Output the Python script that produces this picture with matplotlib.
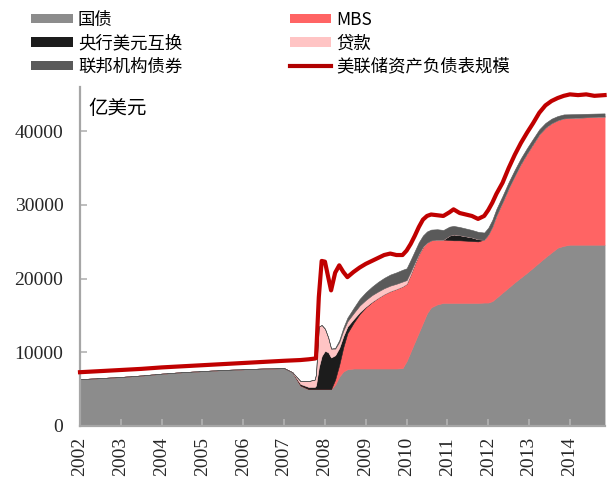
import matplotlib
matplotlib.use("Agg")
import matplotlib.pyplot as plt
from matplotlib.patches import Patch
from matplotlib.lines import Line2D

plt.rcParams["font.family"] = ["Noto Sans CJK SC", "DejaVu Sans"]

# time axis (decimal year, as drawn on the chart)
years = [
    2002.0, 2002.5, 2003.0, 2003.5, 2004.0, 2004.5, 2005.0, 2005.5, 2006.0, 2006.5,
    2007.0, 2007.2, 2007.4, 2007.6, 2007.75, 2007.78, 2007.85, 2007.92, 2008.0, 2008.08,
    2008.15, 2008.25, 2008.35, 2008.45, 2008.55, 2008.7, 2008.85, 2009.0, 2009.15, 2009.3,
    2009.45, 2009.6, 2009.75, 2009.9, 2010.0, 2010.1, 2010.2, 2010.3, 2010.4, 2010.5,
    2010.6, 2010.75, 2010.9, 2011.05, 2011.15, 2011.3, 2011.45, 2011.6, 2011.75, 2011.9,
    2012.0, 2012.1, 2012.2, 2012.35, 2012.5, 2012.65, 2012.8, 2012.95, 2013.1, 2013.25,
    2013.4, 2013.55, 2013.7, 2013.85, 2014.0, 2014.2, 2014.4, 2014.6, 2014.85,
]

# values in 亿美元
treasury = [
    6350, 6500, 6650, 6850, 7100, 7300, 7450, 7600, 7700, 7800,
    7850, 7300, 5500, 5000, 5000, 5000, 5000, 5000, 5000, 5000,
    5000, 5600, 6700, 7400, 7700, 7800, 7800, 7800, 7800, 7800,
    7800, 7800, 7800, 7850, 8800, 10100, 11400, 12700, 14000, 15300,
    16100, 16500, 16700, 16700, 16700, 16700, 16700, 16700, 16700, 16750,
    16750, 16950, 17400, 18100, 18800, 19500, 20150, 20800, 21500, 22200,
    22900, 23550, 24200, 24450, 24600, 24600, 24600, 24600, 24600,
]
mbs = [
    0, 0, 0, 0, 0, 0, 0, 0, 0, 0,
    0, 0, 0, 0, 0, 0, 0, 0, 0, 0,
    0, 700, 1600, 3300, 4900, 6200, 7400, 8300, 9000, 9600,
    10100, 10500, 10800, 11100, 10500, 10500, 10600, 10600, 10300, 9600,
    9100, 8800, 8600, 8550, 8500, 8500, 8450, 8400, 8350, 8550,
    9250, 10150, 11200, 12300, 13500, 14500, 15450, 16200, 16800, 17400,
    17600, 17550, 17300, 17300, 17200, 17250, 17300, 17350, 17400,
]
swaps = [
    0, 0, 0, 0, 0, 0, 0, 0, 0, 0,
    0, 0, 200, 300, 300, 500, 3000, 4500, 5200, 5000,
    4300, 3300, 2300, 1500, 900, 500, 250, 100, 50, 0,
    0, 0, 0, 0, 0, 0, 0, 0, 0, 0,
    0, 0, 0, 600, 800, 700, 600, 500, 300, 0,
    0, 0, 0, 0, 0, 0, 0, 0, 0, 0,
    0, 0, 0, 0, 0, 0, 0, 0, 0,
]
loans = [
    0, 0, 0, 0, 0, 0, 0, 0, 0, 0,
    0, 0, 400, 800, 1000, 1500, 5500, 4200, 3000, 2000,
    1200, 900, 800, 750, 700, 800, 900, 900, 900, 850,
    800, 750, 700, 650, 500, 350, 200, 100, 50, 0,
    0, 0, 0, 0, 0, 0, 0, 0, 0, 0,
    0, 0, 0, 0, 0, 0, 0, 0, 0, 0,
    0, 0, 0, 0, 0, 0, 0, 0, 0,
]
agency = [
    0, 0, 0, 0, 0, 0, 0, 0, 0, 0,
    0, 0, 0, 0, 0, 0, 0, 0, 0, 0,
    0, 100, 250, 400, 500, 700, 900, 1050, 1150, 1300,
    1400, 1500, 1550, 1600, 1600, 1600, 1550, 1550, 1500, 1500,
    1450, 1400, 1300, 1200, 1150, 1100, 1050, 1000, 1000, 950,
    900, 880, 860, 830, 800, 780, 750, 720, 700, 660,
    620, 600, 560, 530, 500, 480, 460, 440, 420,
]
total = [
    7300, 7450, 7600, 7750, 7950, 8100, 8250, 8400, 8550, 8700,
    8850, 8900, 8950, 9050, 9150, 9200, 17500, 22400, 22300, 20200,
    18400, 20800, 21800, 20900, 20200, 20900, 21500, 22000, 22400, 22800,
    23200, 23400, 23200, 23200, 23800, 24700, 25800, 27000, 28000, 28500,
    28700, 28600, 28500, 29000, 29400, 28900, 28700, 28500, 28100, 28500,
    29300, 30300, 31500, 33000, 35000, 36800, 38400, 39800, 41100, 42500,
    43500, 44100, 44500, 44800, 45000, 44900, 45000, 44800, 44900,
]

year_ticks = list(range(2002, 2015))
value_ticks = [0, 10000, 20000, 30000, 40000]

area_labels = ["国债", "MBS", "央行美元互换", "贷款", "联邦机构债券"]
area_colors = ["#8c8c8c", "#ff6464", "#1c1c1c", "#ffc4c4", "#5a5a5a"]
line_label = "美联储资产负债表规模"
line_color = "#c00000"

fig = plt.figure(figsize=(6.15, 4.82), dpi=100)
ax = fig.add_axes([80 / 615, 1 - 426 / 482, 525 / 615, 339 / 482])

ax.stackplot(
    years, treasury, mbs, swaps, loans, agency,
    colors=area_colors, edgecolor="face", linewidth=0.4,
)
ax.plot(years, total, color=line_color, lw=3.0, clip_on=False, zorder=3)

ax.set_xlim(2002, 2014.86)
ax.set_ylim(0, 46000)
ax.set_xticks(year_ticks)
ax.set_xticklabels([str(y) for y in year_ticks], rotation=90)
ax.set_yticks(value_ticks)
ax.set_yticklabels([str(v) for v in value_ticks])

for side in ("top", "right"):
    ax.spines[side].set_visible(False)
for side in ("left", "bottom"):
    ax.spines[side].set_color("#a6a6a6")
    ax.spines[side].set_linewidth(1.6)

ax.tick_params(axis="both", direction="in", length=5, width=1.2,
               color="#b3b3b3", labelsize=14, labelcolor="#262626")
ax.tick_params(axis="y", pad=12)
ax.tick_params(axis="x", pad=8)
for lab in ax.get_xticklabels() + ax.get_yticklabels():
    lab.set_fontfamily("Liberation Serif")

fig.text(88 / 615, 1 - 108 / 482, "亿美元", fontsize=14, va="center", ha="left")

# legend: column-major, 3 rows x 2 columns
handles = [
    Patch(facecolor=area_colors[0]),
    Patch(facecolor=area_colors[2]),
    Patch(facecolor=area_colors[4]),
    Patch(facecolor=area_colors[1]),
    Patch(facecolor=area_colors[3]),
    Line2D([], [], color="#b00000", lw=3.0),
]
labels = [area_labels[0], area_labels[2], area_labels[4],
          area_labels[1], area_labels[3], line_label]
fig.legend(
    handles, labels, ncol=2, loc="upper left",
    bbox_to_anchor=(31 / 615, 1 - 11 / 482), frameon=False,
    fontsize=12.5, handlelength=2.4, handleheight=0.45, handletextpad=0.3,
    columnspacing=6.2, labelspacing=0.3, borderpad=0, borderaxespad=0,
)

fig.savefig("out.png", dpi=100)
